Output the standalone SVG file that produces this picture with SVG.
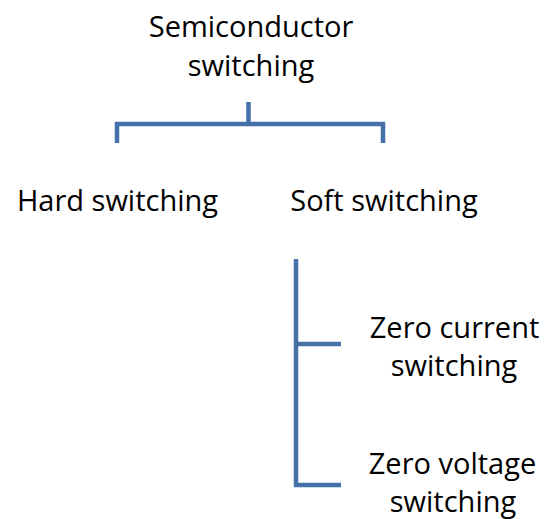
<svg xmlns="http://www.w3.org/2000/svg" width="555" height="519" viewBox="0 0 555 519">
<style>
text{font-family:"Open Sans","Liberation Sans",sans-serif;font-size:29px;fill:#000;text-anchor:middle}
.c{fill:none;stroke:#4670a8;stroke-width:4.5}
</style>
<rect width="555" height="519" fill="#fff"/>
<g id="connectors">
<path class="c" d="M248.5,102 V124"/>
<path class="c" d="M117,143 V124 H383 V143"/>
<path class="c" d="M296,259 V485 H341"/>
<path class="c" d="M296,344 H341"/>
</g>
<g id="n-root"><text x="251" y="37">Semiconductor</text><text x="251" y="76">switching</text></g>
<g id="n-hard"><text x="117.5" y="211">Hard switching</text></g>
<g id="n-soft"><text x="384" y="211">Soft switching</text></g>
<g id="n-zcs"><text x="454.5" y="338">Zero current</text><text x="454" y="376">switching</text></g>
<g id="n-zvs"><text x="452.5" y="474">Zero voltage</text><text x="453" y="512">switching</text></g>
</svg>
